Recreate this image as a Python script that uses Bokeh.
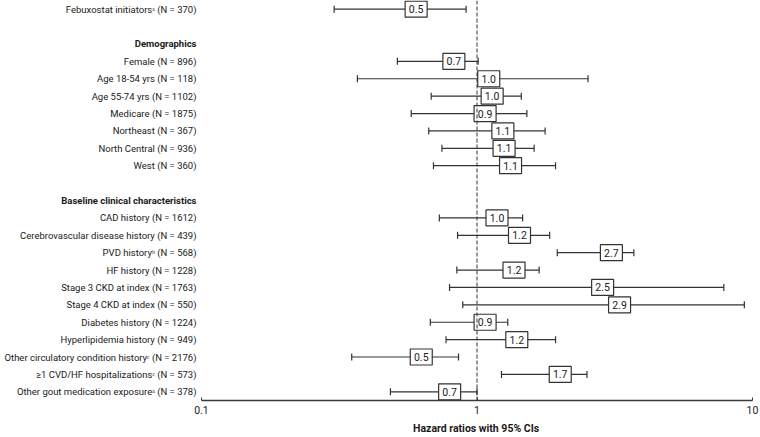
import numpy as np
from bokeh.plotting import figure
from bokeh.models import (ColumnDataSource, Range1d, FixedTicker, Span,
                          BasicTickFormatter, LogScale, Title)
from bokeh.core.properties import value
from bokeh.embed import file_html
from bokeh.resources import INLINE

FONT = "Roboto"

# ---- data ----
item_labels = [
    "Febuxostat initiators\u1d43 (N = 370)",
    "Female (N = 896)",
    "Age 18-54 yrs (N = 118)",
    "Age 55-74 yrs (N = 1102)",
    "Medicare (N = 1875)",
    "Northeast (N = 367)",
    "North Central (N = 936)",
    "West (N = 360)",
    "CAD history (N = 1612)",
    "Cerebrovascular disease history (N = 439)",
    "PVD history\u1d47 (N = 568)",
    "HF history (N = 1228)",
    "Stage 3 CKD at index (N = 1763)",
    "Stage 4 CKD at index (N = 550)",
    "Diabetes history (N = 1224)",
    "Hyperlipidemia history (N = 949)",
    "Other circulatory condition history\u1d9c (N = 2176)",
    "\u22651 CVD/HF hospitalizations\u1d9c (N = 573)",
    "Other gout medication exposure\u1d43 (N = 378)",
]
item_rows = [0, 3, 4, 5, 6, 7, 8, 9, 12, 13, 14, 15, 16, 17, 18, 19, 20, 21, 22]
hr = [0.526, 0.721, 0.965, 0.993, 0.936, 1.086, 1.097, 1.158,
      1.034, 1.248, 2.69, 1.192, 2.50, 2.88, 0.936, 1.22, 0.549, 1.754, 0.696]
ci_lo = [0.303, 0.514, 0.368, 0.682, 0.577, 0.668, 0.746, 0.695,
         0.730, 0.850, 1.956, 0.845, 0.795, 0.888, 0.677, 0.772, 0.351, 1.227, 0.485]
ci_hi = [0.913, 1.01, 2.53, 1.448, 1.517, 1.767, 1.612, 1.928,
         1.464, 1.835, 3.71, 1.681, 7.87, 9.34, 1.293, 1.928, 0.857, 2.507, 1.00]
hr_text = ["0.5", "0.7", "1.0", "1.0", "0.9", "1.1", "1.1", "1.1",
           "1.0", "1.2", "2.7", "1.2", "2.5", "2.9", "0.9", "1.2", "0.5", "1.7", "0.7"]
header_labels = ["Demographics", "Baseline clinical characteristics"]
header_rows = [2, 11]
x_ticks = [0.1, 1, 10]
ref_value = 1
x_title = "Hazard ratios with 95% CIs"

# ---- layout ----
W, H = 760, 437
BOTTOM = 37
frame_h = H - BOTTOM
row0_px = 8.7
axis_row = 22.5
spacing = (frame_h - row0_px) / axis_row
y_top = -row0_px / spacing
x01_px, x10_px = 201, 752            # frame pixels of 0.1 and 10
dec = (x10_px - x01_px) / 2
x_start = 10 ** (-1 - x01_px / dec)
x_end = 10 ** (1 + (W - x10_px) / dec)
box_shift = 10 ** (16 / dec)          # boxes sit 16 px right of the estimate

src = ColumnDataSource(dict(row=item_rows, label=item_labels, hr=hr,
                            lo=ci_lo, hi=ci_hi, hr_text=hr_text))
hsrc = ColumnDataSource(dict(row=header_rows, label=header_labels))

p = figure(width=W, height=H, x_axis_type="log",
           x_range=Range1d(x_start, x_end), y_range=Range1d(axis_row, y_top),
           output_backend="svg", toolbar_location=None,
           min_border_left=0, min_border_right=0, min_border_top=0,
           min_border_bottom=BOTTOM)
p.extra_x_ranges = {"box": Range1d(x_start / box_shift, x_end / box_shift)}
p.extra_x_scales = {"box": LogScale()}
p.outline_line_color = None
p.grid.visible = False
p.yaxis.visible = False

TXT = "#1a1a1a"
ax = p.xaxis[0]
ax.ticker = FixedTicker(ticks=x_ticks, minor_ticks=[])
ax.formatter = BasicTickFormatter()
ax.bounds = (x_ticks[0], x_ticks[-1])
ax.axis_line_color = "#3a3a3a"
ax.axis_line_width = 1.5
ax.major_tick_in = 3
ax.major_tick_out = 0
ax.major_tick_line_color = "#3a3a3a"
ax.minor_tick_in = 0
ax.minor_tick_out = 0
ax.major_label_text_font = FONT
ax.major_label_text_font_size = "10.5px"
ax.major_label_text_color = TXT
ax.major_label_standoff = 5

# axis title, centred under the reference line (x = 1)
title_w = 128
p.add_layout(Title(text=x_title, align="left",
                   offset=x01_px + dec - title_w / 2, standoff=6,
                   text_font=FONT, text_font_style="bold",
                   text_font_size="10.5px", text_color=TXT), "below")

p.add_layout(Span(location=ref_value, dimension="height", line_color="#333333",
                  line_width=1, line_dash="4 2"))

line_col = "#333333"
p.segment(x0="lo", y0="row", x1="hi", y1="row", source=src,
          line_color=line_col, line_width=1.2)
p.scatter(x="lo", y="row", source=src, marker="dash", angle=np.pi / 2, size=7,
          line_color=line_col, line_width=1.2)
p.scatter(x="hi", y="row", source=src, marker="dash", angle=np.pi / 2, size=7,
          line_color=line_col, line_width=1.2)

p.rect(x="hr", y="row", width=22, height=16, width_units="screen",
       height_units="screen", source=src, x_range_name="box",
       fill_color="white", line_color="#333333", line_width=1.2)
p.text(x="hr", y="row", text="hr_text", source=src, x_range_name="box",
       text_align="center", text_baseline="middle",
       text_font=value(FONT), text_font_size="10.5px", text_color=TXT)

p.text(x=x_ticks[0], y="row", text="label", source=src, x_offset=-5,
       text_align="right", text_baseline="middle",
       text_font=value(FONT), text_font_size="9.5px", text_color=TXT)
p.text(x=x_ticks[0], y="row", text="label", source=hsrc, x_offset=-5,
       text_align="right", text_baseline="middle",
       text_font=value(FONT), text_font_size="9.5px", text_font_style="bold",
       text_color=TXT)

open("out.html", "w").write(file_html(p, INLINE))
